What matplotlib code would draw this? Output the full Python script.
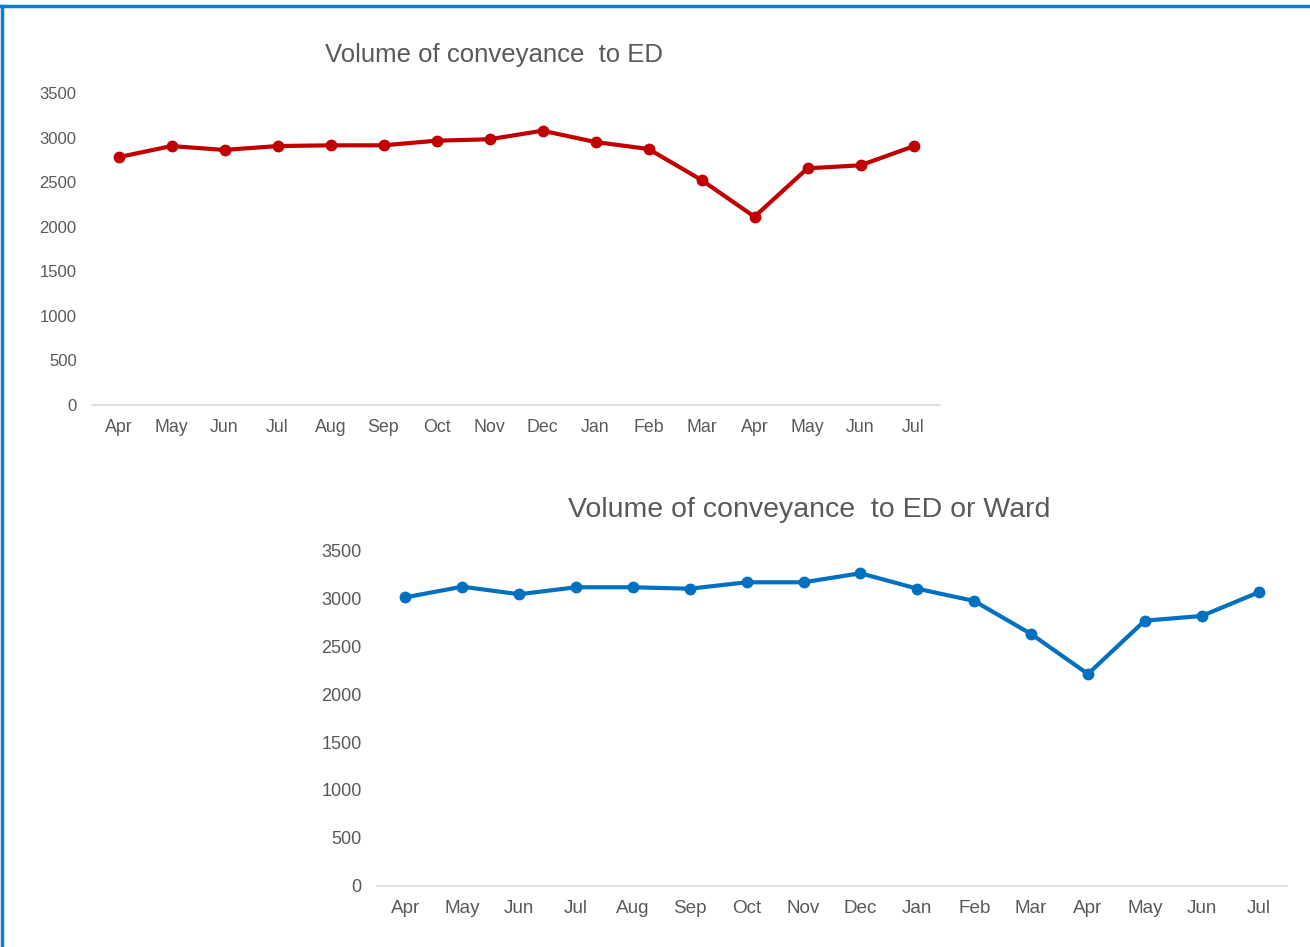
import matplotlib
matplotlib.use("Agg")
import matplotlib.pyplot as plt
from matplotlib.lines import Line2D

# Month labels (financial year Apr -> Jul of the following year)
months = ["Apr", "May", "Jun", "Jul", "Aug", "Sep", "Oct", "Nov",
          "Dec", "Jan", "Feb", "Mar", "Apr", "May", "Jun", "Jul"]

# Conveyance volumes
ed_volume = [2780, 2905, 2861, 2905, 2913, 2913, 2965, 2981,
             3077, 2950, 2872, 2524, 2112, 2655, 2689, 2902]
ed_ward_volume = [3013, 3124, 3045, 3118, 3118, 3103, 3170, 3170,
                  3264, 3103, 2975, 2630, 2212, 2769, 2818, 3065]

yticks = [0, 500, 1000, 1500, 2000, 2500, 3000, 3500]

plt.rcParams['font.family'] = ['Liberation Sans', 'DejaVu Sans']
grey = "#595959"

W, H = 1310, 947
fig = plt.figure(figsize=(W / 100, H / 100), dpi=100)


def px_axes(left, top, right, bottom):
    # axes from pixel box
    return fig.add_axes([left / W, 1 - bottom / H, (right - left) / W, (bottom - top) / H])


def style(ax, values, color, ysize, xsize):
    x = range(len(values))
    ax.plot(x, values, color=color, lw=3.0, marker="o", ms=7.5,
            solid_joinstyle="round", solid_capstyle="round")
    ax.set_xlim(-0.5, len(values) - 0.5)
    ax.set_ylim(0, 3500)
    ax.set_yticks(yticks)
    ax.set_xticks(list(x))
    ax.set_xticklabels(months)
    for s in ["top", "right", "left"]:
        ax.spines[s].set_visible(False)
    ax.spines["bottom"].set_color("#d9d9d9")
    ax.spines["bottom"].set_linewidth(1.2)
    ax.tick_params(axis="both", length=0, colors=grey)
    ax.tick_params(axis="y", pad=11, labelsize=ysize)
    ax.tick_params(axis="x", pad=10, labelsize=xsize)
    ax.set_facecolor("none")


ax1 = px_axes(92, 93, 940, 405)
style(ax1, ed_volume, "#C00000", 12, 12.8)
fig.text(494 / W, 1 - 55 / H, "Volume of conveyance  to ED", color=grey,
         fontsize=18.5, ha="center", va="center")

ax2 = px_axes(377, 550.7, 1287, 885.7)
style(ax2, ed_ward_volume, "#0070C0", 13, 13.6)
fig.text(809 / W, 1 - 510 / H, "Volume of conveyance  to ED or Ward", color=grey,
         fontsize=20.5, ha="center", va="center")

# blue frame on top and left
fig.add_artist(Line2D([0, 1], [1 - 6 / H, 1 - 6 / H], color="#0A7ED6", lw=2.5,
                      transform=fig.transFigure))
fig.add_artist(Line2D([2 / W, 2 / W], [0, 1 - 6 / H], color="#0A7ED6", lw=2.5,
                      transform=fig.transFigure))

fig.savefig("out.png", dpi=100)
